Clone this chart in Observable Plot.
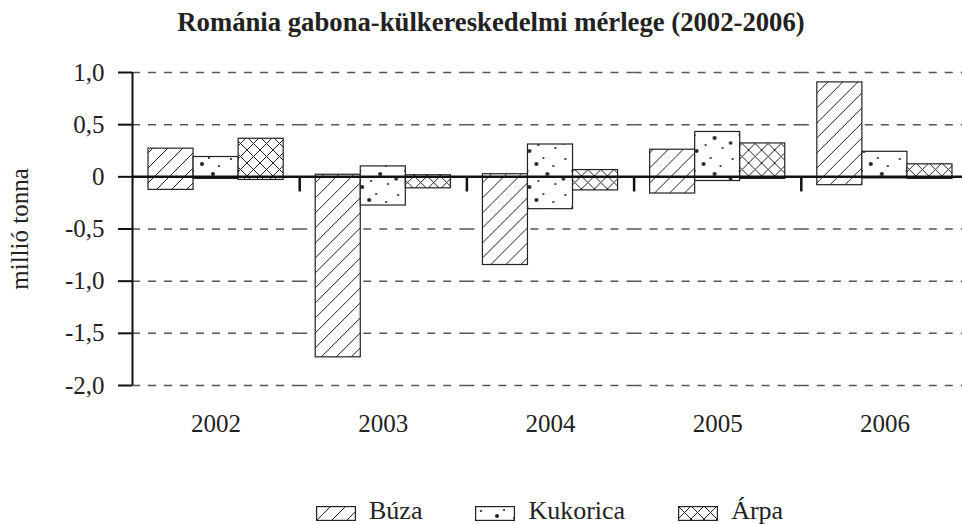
<!DOCTYPE html>
<html>
<head>
<meta charset="utf-8">
<script src="https://cdn.jsdelivr.net/npm/d3@7"></script>
<script src="https://cdn.jsdelivr.net/npm/@observablehq/plot@0.6"></script>
<style>
  html, body { margin: 0; padding: 0; background: #fff; }
  body { font-family: "Liberation Serif", "Times New Roman", serif; color: #222; }
  #wrap { width: 962px; height: 524px; overflow: hidden; position: relative; }
  #title { height: 46px; line-height: 44px; text-align: center; font-weight: bold; font-size: 26.7px; padding-left: 20px; box-sizing: border-box; white-space: nowrap; }
  #chart svg { max-width: none !important; display: block; }
  #chart svg text { font-family: "Liberation Serif", "Times New Roman", serif !important; }
  #legend { position: absolute; left: 316px; top: 496px; height: 30px; display: flex; align-items: center; font-size: 26px; line-height: 30px; white-space: nowrap; }
  #legend .item { display: flex; align-items: center; margin-right: 53px; }
  #legend svg { display: block; margin-right: 13px; margin-top: 4px; }
  #defs { position: absolute; width: 0; height: 0; }
</style>
</head>
<body>
<svg id="defs" width="0" height="0" aria-hidden="true">
  <defs>
    <pattern id="pat-buza" patternUnits="userSpaceOnUse" width="15" height="15">
      <rect width="15" height="15" fill="#fff"/>
      <path d="M0,15 L15,0 M-3,3 L3,-3 M12,18 L18,12" stroke="#222" stroke-width="1" fill="none"/>
    </pattern>
    <pattern id="pat-kukorica" patternUnits="userSpaceOnUse" width="45" height="36">
      <rect width="45" height="36" fill="#fff"/>
      <g fill="#222">
        <circle cx="6" cy="5" r="1.1"/>
        <circle cx="29" cy="4" r="1.1"/>
        <circle cx="22" cy="10" r="2"/>
        <circle cx="39" cy="12" r="1.1"/>
        <circle cx="13" cy="17" r="1.1"/>
        <circle cx="33" cy="20" r="2"/>
        <circle cx="4" cy="25" r="1.8"/>
        <circle cx="24" cy="27" r="1.1"/>
        <circle cx="41" cy="30" r="1.1"/>
        <circle cx="15" cy="33" r="2"/>
      </g>
    </pattern>
    <pattern id="pat-arpa" patternUnits="userSpaceOnUse" width="13" height="13">
      <rect width="13" height="13" fill="#fff"/>
      <path d="M0,13 L13,0 M-3,3 L3,-3 M10,16 L16,10 M0,0 L13,13 M-3,10 L3,16 M10,-3 L16,3" stroke="#222" stroke-width="1" fill="none"/>
    </pattern>
  </defs>
</svg>
<div id="wrap">
  <div id="title">Románia gabona-külkereskedelmi mérlege (2002-2006)</div>
  <div id="chart"></div>
  <div id="legend"></div>
</div>
<script>
// ---- data (millió tonna) ----
const years = ["2002", "2003", "2004", "2005", "2006"];
const grains = ["Búza", "Kukorica", "Árpa"];
const buzaExport     = [0.27, 0.02, 0.025, 0.26, 0.905];
const buzaImport     = [-0.125, -1.73, -0.845, -0.16, -0.08];
const kukoricaExport = [0.19, 0.10, 0.31, 0.43, 0.24];
const kukoricaImport = [-0.02, -0.275, -0.31, -0.04, -0.015];
const arpaExport     = [0.365, 0.015, 0.065, 0.32, 0.12];
const arpaImport     = [-0.03, -0.11, -0.13, -0.02, -0.02];
const yTicks = [1, 0.5, 0, -0.5, -1, -1.5, -2];

const patternIds = {"Búza": "pat-buza", "Kukorica": "pat-kukorica", "Árpa": "pat-arpa"};
const series = {
  "Búza": [buzaExport, buzaImport],
  "Kukorica": [kukoricaExport, kukoricaImport],
  "Árpa": [arpaExport, arpaImport]
};
const rows = [];
years.forEach((yr, i) => {
  grains.forEach(g => {
    rows.push({year: yr, grain: g, exp: series[g][0][i], imp: series[g][1][i]});
  });
});

const W = 968, H = 424;
const mL = 132, mR = 0, mT = 26, mB = 85;
const padOuter = 16 / 45;
const facetStep = (W - mL - mR) / years.length;
const innerStep = facetStep / (grains.length + 2 * padOuter);
const edgeDx = -(padOuter * innerStep + innerStep / 2);
const fmt = d => d === 0 ? "0" : d.toFixed(1).replace(".", ",");
const serif = "'Liberation Serif', 'Times New Roman', serif";

const chart = Plot.plot({
  width: W,
  height: H,
  marginLeft: mL,
  marginRight: mR,
  marginTop: mT,
  marginBottom: mB,
  style: {fontFamily: serif, fontSize: "25px", color: "#222", background: "transparent"},
  fx: {domain: years, padding: 0, round: false, label: null},
  x: {domain: grains, paddingInner: 0, paddingOuter: padOuter, round: false, axis: null},
  y: {domain: [-2, 1], label: null},
  color: {type: "identity"},
  marks: [
    Plot.gridY(yTicks.filter(d => d !== 0), {stroke: "#555", strokeOpacity: 1, strokeWidth: 1.5, strokeDasharray: "8,8"}),
    Plot.barY(rows, {
      fx: "year", x: "grain", y1: "imp", y2: "exp",
      fill: d => `url(#${patternIds[d.grain]})`,
      stroke: "#222", strokeWidth: 1.2
    }),
    Plot.ruleY([0], {stroke: "#111", strokeWidth: 2.5}),
    Plot.ruleX(years.slice(1), {fx: d => d, x: () => grains[0], dx: edgeDx, y1: 0, y2: -0.145, stroke: "#111", strokeWidth: 2.5}),
    Plot.ruleX([years[0]], {fx: d => d, x: () => grains[0], dx: edgeDx, y1: -2, y2: 1, stroke: "#111", strokeWidth: 2}),
    Plot.axisY({
      ticks: yTicks, tickFormat: fmt, tickSize: 14, tickPadding: 14,
      stroke: "#111", strokeWidth: 2, fontSize: 25,
      label: "millió tonna", labelAnchor: "center", labelOffset: 122, labelArrow: false
    }),
    Plot.axisFx({anchor: "bottom", tickSize: 0, tickPadding: 29, fontSize: 25, label: null})
  ]
});
document.getElementById("chart").appendChild(chart);

// ---- legend ----
const legend = d3.select("#legend");
grains.forEach(g => {
  const item = legend.append("div").attr("class", "item");
  const sw = item.append("svg").attr("width", 40).attr("height", 15);
  sw.append("rect").attr("x", 0.6).attr("y", 0.6).attr("width", 38.8).attr("height", 13.8)
    .attr("fill", `url(#${patternIds[g]})`).attr("stroke", "#222").attr("stroke-width", 1.2);
  item.append("span").text(g);
});
</script>
</body>
</html>
